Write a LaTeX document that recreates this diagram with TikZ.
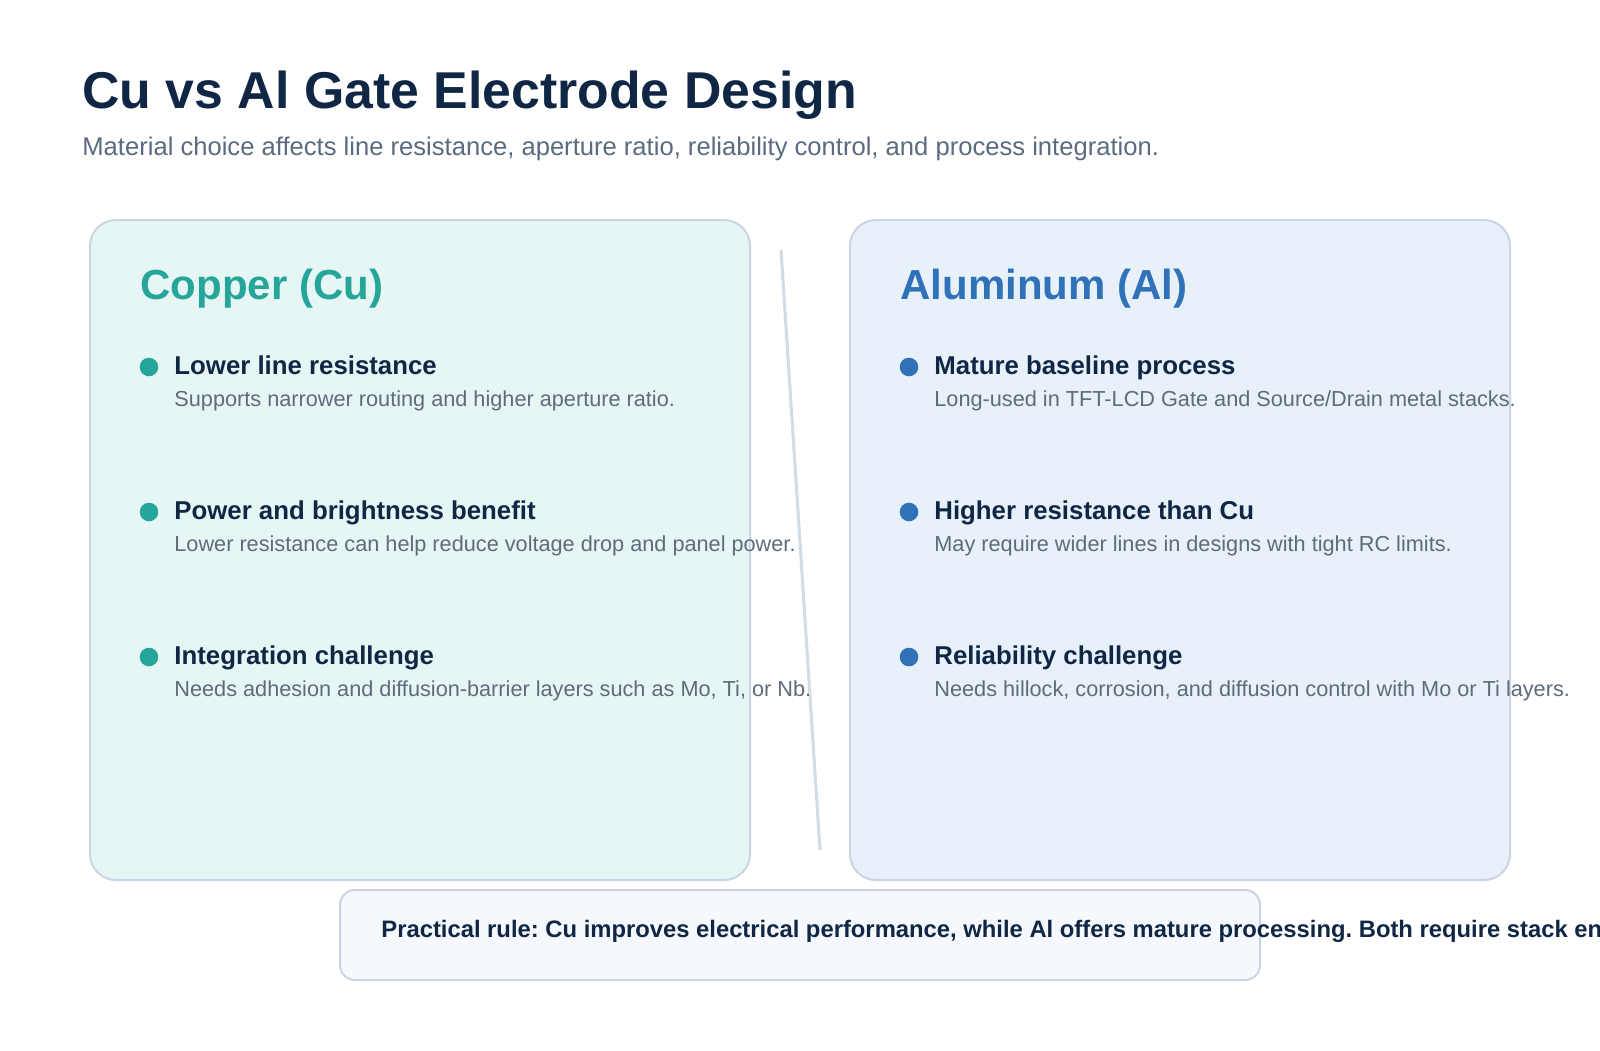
\documentclass[tikz,border=0pt]{standalone}
\usepackage{fontspec}
\setmainfont{Liberation Sans}
\usepackage{tikz}
\usetikzlibrary{positioning}
\frenchspacing

\definecolor{inkNavy}{HTML}{0F2744}
\definecolor{subGray}{HTML}{5B6B7F}
\definecolor{noteGray}{HTML}{5F6B7A}
\definecolor{cuTeal}{HTML}{26A69A}
\definecolor{alBlue}{HTML}{2F72B8}
\definecolor{panelEdge}{HTML}{C9D5E3}
\definecolor{cuFill}{HTML}{E6F6F5}
\definecolor{alFill}{HTML}{E8F0FA}
\definecolor{ruleFill}{HTML}{F5F8FC}
\definecolor{dividerGray}{HTML}{D3DBE5}

\begin{document}
\begin{tikzpicture}[
    x=0.5pt, y=-0.5pt,
    panel/.style={rectangle, draw=panelEdge, line width=1pt, rounded corners=13pt,
                 minimum width=330pt, minimum height=330pt, inner sep=0pt},
    txt/.style={anchor=base west, inner sep=0pt},
    heading/.style={txt, font=\fontsize{21}{25}\selectfont\bfseries},
    pointtitle/.style={txt, font=\fontsize{12.9}{16}\selectfont\bfseries, text=inkNavy},
    pointnote/.style={txt, font=\fontsize{10.85}{13}\selectfont, text=noteGray},
    dot/.style={circle, inner sep=0pt, minimum size=9.3pt},
    divider/.style={draw=dividerGray, line width=1.5pt}
  ]

  \useasboundingbox[fill=white] (0,0) rectangle (1600,1050);

  % title
  \node[txt, font=\fontsize{25.9}{30}\selectfont\bfseries, text=inkNavy] (title) at (82,108)
    {Cu vs Al Gate Electrode Design};
  \node[txt, font=\fontsize{12.8}{15}\selectfont, text=subGray] (subtitle) at (82,155)
    {Material choice affects line resistance, aperture ratio, reliability control, and process integration.};

  % panels
  \node[panel, fill=cuFill] (cupanel) at (420,550) {};
  \node[panel, fill=alFill] (alpanel) at (1180,550) {};

  \coordinate (divtop) at (781,250);
  \coordinate (divbot) at (820,850);
  \draw[divider] (divtop) -- (divbot);

  % copper side
  \node[heading, text=cuTeal] (cuhead) at (140,299) {Copper (Cu)};

  \node[dot, fill=cuTeal] (cudot1) at (149,367) {};
  \node[pointtitle] (cutitle1) at (174,374) {Lower line resistance};
  \node[pointnote] (cunote1) at (174,406) {Supports narrower routing and higher aperture ratio.};

  \node[dot, fill=cuTeal] (cudot2) at (149,512) {};
  \node[pointtitle] (cutitle2) at (174,519) {Power and brightness benefit};
  \node[pointnote] (cunote2) at (174,551) {Lower resistance can help reduce voltage drop and panel power.};

  \node[dot, fill=cuTeal] (cudot3) at (149,657) {};
  \node[pointtitle] (cutitle3) at (174,664) {Integration challenge};
  \node[pointnote] (cunote3) at (174,696) {Needs adhesion and diffusion-barrier layers such as Mo, Ti, or Nb.};

  % aluminum side
  \node[heading, text=alBlue] (alhead) at (900,299) {Aluminum (Al)};

  \node[dot, fill=alBlue] (aldot1) at (909,367) {};
  \node[pointtitle] (altitle1) at (934,374) {Mature baseline process};
  \node[pointnote] (alnote1) at (934,406) {Long-used in TFT-LCD Gate and Source/Drain metal stacks.};

  \node[dot, fill=alBlue] (aldot2) at (909,512) {};
  \node[pointtitle] (altitle2) at (934,519) {Higher resistance than Cu};
  \node[pointnote] (alnote2) at (934,551) {May require wider lines in designs with tight RC limits.};

  \node[dot, fill=alBlue] (aldot3) at (909,657) {};
  \node[pointtitle] (altitle3) at (934,664) {Reliability challenge};
  \node[pointnote] (alnote3) at (934,696) {Needs hillock, corrosion, and diffusion control with Mo or Ti layers.};

  % practical rule
  \node[rectangle, draw=panelEdge, line width=1pt, fill=ruleFill, rounded corners=7.5pt,
        minimum width=460pt, minimum height=45pt] (rulebox) at (800,935) {};
  \node[txt, font=\fontsize{11.9}{14}\selectfont\bfseries, text=inkNavy] (ruletext) at (381,937)
    {Practical rule: Cu improves electrical performance, while Al offers mature processing. Both require stack engineering.};

\end{tikzpicture}
\end{document}
